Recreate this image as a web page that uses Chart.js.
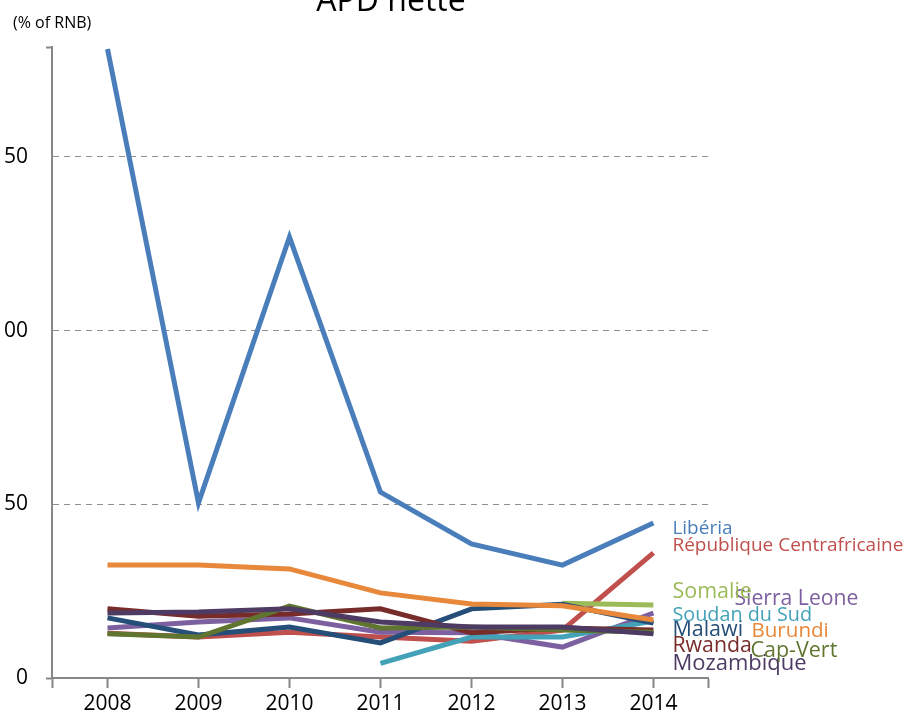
<!DOCTYPE html>
<html>
<head>
<meta charset="utf-8">
<script src="https://cdn.jsdelivr.net/npm/chart.js@4"></script>
<style>
  html, body { margin: 0; padding: 0; background: #fff; overflow: hidden; }
  #wrap { position: absolute; left: -20px; top: -24px; width: 939px; height: 744px; }
</style>
</head>
<body>
<div id="wrap"><canvas id="chart"></canvas></div>
<script>
(function() {
    'use strict';

    // Data
    const years = [2008, 2009, 2010, 2011, 2012, 2013, 2014];
    const yTicks = [0, 50, 100, 150];
    const yMax = 181.6;

    const liberia = [181, 50.4, 126.9, 53.5, 38.6, 32.5, 44.6];
    const rca = [12.9, 11.8, 13.2, 11.8, 10.6, 13.8, 36.0];
    const somalie = [null, null, null, null, null, 21.5, 21.0];
    const sierraLeone = [14.4, 16.1, 17.3, 13.2, 13.0, 8.9, 18.7];
    const soudanDuSud = [null, null, null, 4.2, 11.8, 11.8, 16.4];
    const burundi = [32.5, 32.5, 31.4, 24.5, 21.3, 20.8, 16.7];
    const malawi = [17.3, 12.4, 14.7, 10.1, 19.9, 21.2, 15.8];
    const rwanda = [19.9, 17.8, 18.4, 19.9, 13.0, 14.4, 13.8];
    const capVert = [12.7, 11.8, 20.7, 14.4, 14.7, 13.8, 13.2];
    const mozambique = [18.7, 19.0, 19.9, 16.1, 14.7, 14.7, 12.7];

    // Series drawn bottom to top, with their end-label placement
    const series = [
        { name: 'Mozambique', values: mozambique, color: '#4d3b64', dx: 19, labelY: 2.3, size: 22 },
        { name: 'Cap-Vert', values: capVert, color: '#5f7530', dx: 97, labelY: 6.0, size: 21.5 },
        { name: 'Rwanda', values: rwanda, color: '#772c2a', dx: 19, labelY: 7.5, size: 21.3 },
        { name: 'Burundi', values: burundi, color: '#e8883a', dx: 98, labelY: 11.8, size: 20.6 },
        { name: 'Malawi', values: malawi, color: '#254e78', dx: 19, labelY: 12.1, size: 21.5 },
        { name: 'Soudan du Sud', values: soudanDuSud, color: '#43a2b8', dx: 19, labelY: 16.4, size: 19.8 },
        { name: 'Sierra Leone', values: sierraLeone, color: '#7d60a0', dx: 81, labelY: 21.0, size: 21.2 },
        { name: 'Somalie', values: somalie, color: '#9bbb59', dx: 19, labelY: 23.0, size: 21.5 },
        { name: 'République Centrafricaine', values: rca, color: '#c0504d', dx: 19, labelY: 36.5, size: 19 },
        { name: 'Libéria', values: liberia, color: '#4a7ebb', dx: 19, labelY: 41.4, size: 19 }
    ];

    const FONT = "'Open Sans', 'Noto Sans', sans-serif";
    const AXIS = '#878787';
    const xMin = 2007.39, xMax = 2014.6;

    // Title, unit note and end labels
    const annotations = {
        id: 'annotations',
        afterDraw(chart) {
            const c = chart.ctx;
            const xs = chart.scales.x, ys = chart.scales.y;
            c.save();
            c.textBaseline = 'alphabetic';
            c.fillStyle = '#000';
            c.textAlign = 'center';
            c.font = '32px ' + FONT;
            c.fillText('APD nette', 411, 35);
            c.textAlign = 'left';
            c.font = '16px ' + FONT;
            c.fillText('(% of RNB)', 33, 52);
            series.forEach(s => {
                c.fillStyle = s.color;
                c.font = s.size + 'px ' + FONT;
                c.fillText(s.name, xs.getPixelForValue(years[years.length - 1]) + s.dx, ys.getPixelForValue(s.labelY));
            });
            c.restore();
        }
    };

    const datasets = series.map(s => ({
        label: s.name,
        data: years.map((y, i) => ({ x: y, y: s.values[i] })).filter(p => p.y !== null),
        borderColor: s.color,
        backgroundColor: s.color,
        borderWidth: 5,
        pointRadius: 0,
        tension: 0,
        fill: false
    }));

    new Chart(document.getElementById('chart'), {
        type: 'line',
        data: { datasets: datasets },
        plugins: [annotations],
        options: {
            responsive: true,
            maintainAspectRatio: false,
            animation: false,
            layout: { padding: { top: 71, right: 211, bottom: 0, left: 0 } },
            plugins: {
                legend: { display: false },
                tooltip: { enabled: false }
            },
            scales: {
                x: {
                    type: 'linear',
                    min: xMin,
                    max: xMax,
                    afterBuildTicks: s => {
                        s.ticks = [xMin].concat(years, [xMax]).map(v => ({ value: v }));
                    },
                    afterFit: s => { s.height = 42; },
                    grid: {
                        drawOnChartArea: false,
                        drawTicks: true,
                        tickLength: 10,
                        tickWidth: 2,
                        tickColor: AXIS
                    },
                    border: { color: AXIS, width: 2 },
                    ticks: {
                        autoSkip: false,
                        maxRotation: 0,
                        padding: 3,
                        color: '#000',
                        font: { family: FONT, size: 21 },
                        callback: v => years.includes(v) ? String(v) : ''
                    }
                },
                y: {
                    min: 0,
                    max: yMax,
                    afterBuildTicks: s => {
                        s.ticks = yTicks.concat([yMax]).map(v => ({ value: v }));
                    },
                    afterFit: s => { s.width = 72; },
                    grid: {
                        color: c => (c.tick && c.tick.value > 0 && c.tick.value < yMax) ? '#8f8f8f' : 'rgba(0,0,0,0)',
                        lineWidth: 1,
                        drawTicks: true,
                        tickLength: 6,
                        tickWidth: 2,
                        tickColor: c => (c.tick && (c.tick.value === 0 || c.tick.value === yMax)) ? AXIS : 'rgba(0,0,0,0)'
                    },
                    border: { color: AXIS, width: 2, dash: [6, 5] },
                    ticks: {
                        padding: 18,
                        color: '#000',
                        font: { family: FONT, size: 21 },
                        callback: v => yTicks.includes(v) ? String(v) : ''
                    }
                }
            }
        }
    });
})();
</script>
</body>
</html>
